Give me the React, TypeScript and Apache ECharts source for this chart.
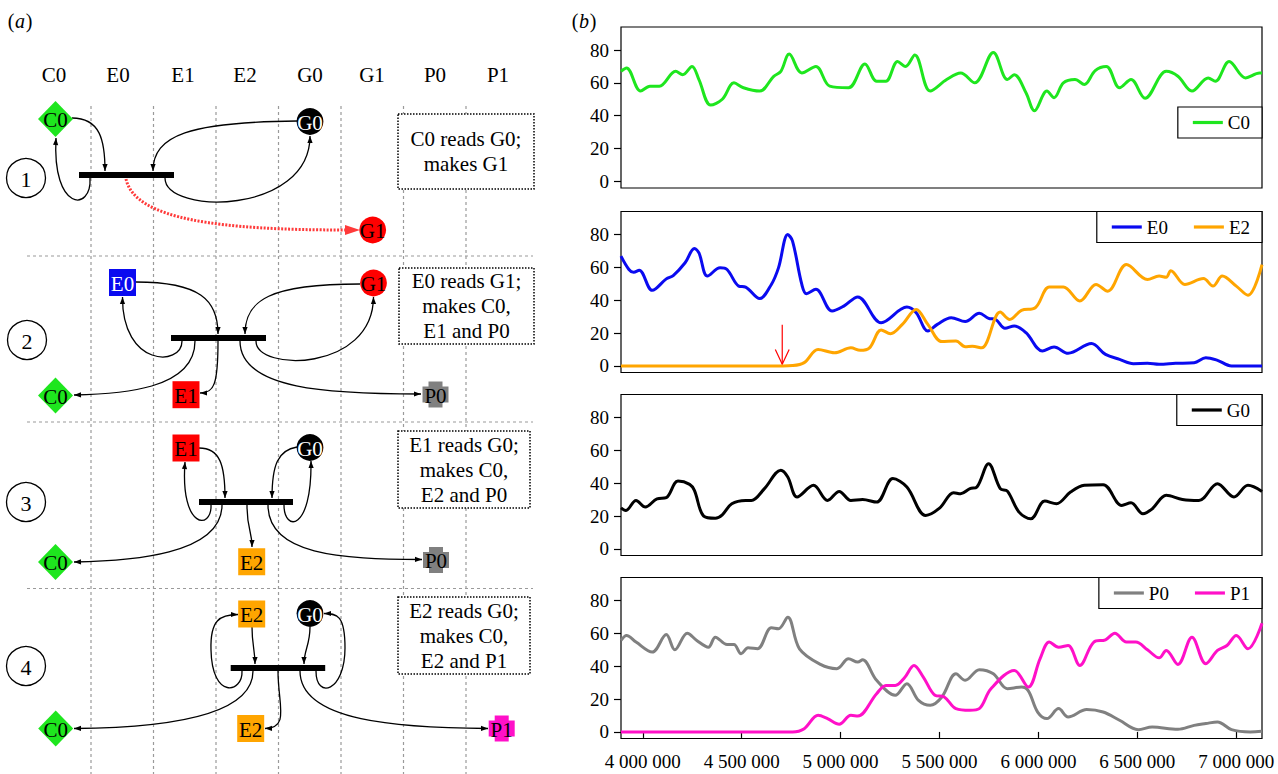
import { useEffect, useRef } from 'react';
import * as echarts from 'echarts';

const SERIF = 'Liberation Serif';

// ---------- data (x in thousands of steps, y values) ----------
const c0X = [3890, 3918, 3989, 4036, 4084, 4166, 4202, 4249, 4284, 4343, 4402, 4461, 4509, 4591, 4662, 4698, 4740, 4804, 4875, 4945, 5040, 5123, 5182, 5229, 5288, 5328, 5375, 5453, 5536, 5607, 5678, 5772, 5843, 5878, 5937, 5980, 6043, 6079, 6126, 6185, 6232, 6287, 6343, 6410, 6468, 6539, 6646, 6705, 6776, 6858, 6894, 6964, 7047, 7118, 7130];
const c0Y = [67, 69, 55, 58, 58, 67, 65, 70, 62, 46.5, 50, 60, 57, 55, 64, 67, 77.5, 66, 70, 58, 57, 71.5, 61, 61, 73, 70, 77, 55, 62, 66, 60, 78.5, 62, 65, 54, 43, 55, 51, 60, 62, 59, 67.5, 70, 57, 62, 50.6, 67, 64, 55, 63, 61, 73, 63, 66, 66];

const e0X = [3890, 3930, 3954, 3982, 4048, 4119, 4154, 4214, 4261, 4284, 4327, 4391, 4426, 4485, 4520, 4591, 4650, 4686, 4733, 4757, 4804, 4827, 4875, 4957, 5016, 5087, 5205, 5335, 5382, 5441, 5489, 5559, 5630, 5701, 5748, 5784, 5831, 5878, 5937, 6020, 6079, 6150, 6268, 6339, 6410, 6480, 6551, 6610, 6693, 6787, 6846, 6905, 6976, 7130];
const e0Y = [66.8, 58.7, 57, 58.3, 46, 53, 55, 62.8, 71.5, 68.8, 54.7, 59.7, 58.7, 48.6, 48, 41, 49.6, 59.7, 80, 76, 49.6, 44, 46.6, 33.4, 36.4, 42, 26.3, 35.8, 32.4, 21.3, 25.3, 29.4, 27, 32, 29, 28.3, 22.9, 24.3, 20.2, 9.1, 11.5, 7.7, 13.6, 7, 4, 1.4, 1.6, 1, 1.6, 2, 5, 3.4, 0, 0];

const e2X = [3890, 4709, 4757, 4816, 4886, 4969, 5052, 5099, 5146, 5205, 5252, 5312, 5382, 5441, 5512, 5583, 5630, 5666, 5713, 5807, 5855, 5914, 5984, 6055, 6126, 6209, 6291, 6350, 6445, 6551, 6610, 6646, 6669, 6740, 6834, 6882, 6929, 7000, 7059, 7130];
const e2Y = [0, 0, 0.2, 2, 10, 8, 11, 9.5, 11, 21.9, 19.6, 25.3, 34.4, 25.3, 14.8, 15.2, 11.7, 12, 11, 32.8, 28.3, 33.8, 35.4, 48, 48, 39.5, 49.6, 45.5, 61.7, 52.6, 54.7, 54, 58, 49.6, 53.2, 48.6, 54.7, 48.6, 43, 61.7];

const g0X = [3890, 3914, 3966, 4013, 4072, 4119, 4178, 4237, 4261, 4308, 4367, 4402, 4450, 4520, 4549, 4615, 4698, 4733, 4780, 4863, 4934, 4993, 5052, 5111, 5182, 5264, 5335, 5430, 5500, 5571, 5607, 5654, 5689, 5748, 5807, 5843, 5902, 5961, 6032, 6091, 6162, 6232, 6327, 6421, 6468, 6528, 6575, 6646, 6728, 6811, 6905, 6988, 7059, 7130];
const g0Y = [25, 23.4, 29.5, 25.5, 30.5, 31.2, 41.3, 39.3, 35.6, 20, 18.7, 20.8, 27.5, 29.5, 29.5, 36.7, 47.9, 43.8, 31.6, 38.7, 29.5, 35, 29.5, 30.1, 28.5, 42.8, 37.7, 20.4, 24.8, 34.2, 33.6, 36.7, 37.7, 51.9, 36.7, 35.2, 22.4, 18.3, 29.1, 27.5, 34.6, 38.7, 39.1, 26.5, 28.1, 21.4, 24.4, 32.6, 30.1, 29.5, 39.7, 31.6, 38.7, 35];

const p0X = [3890, 3918, 3966, 4048, 4119, 4162, 4225, 4273, 4332, 4367, 4426, 4461, 4497, 4532, 4580, 4650, 4686, 4733, 4792, 4898, 4981, 5040, 5087, 5111, 5182, 5276, 5335, 5394, 5453, 5512, 5583, 5630, 5701, 5772, 5843, 5914, 5949, 5996, 6043, 6102, 6150, 6244, 6327, 6410, 6504, 6575, 6705, 6787, 6846, 6905, 6976, 7071, 7130];
const p0Y = [55.7, 58.7, 54.7, 48.6, 59.3, 50, 60.1, 55.7, 51.6, 57.7, 53.2, 53.2, 47.6, 51.2, 50.6, 63.4, 62.8, 69.8, 50.6, 41.1, 38.5, 44.5, 42.5, 43.9, 31.4, 22.3, 29.4, 19.2, 16.2, 21.3, 35.4, 31.4, 37.9, 35.4, 26.3, 27.3, 25, 12.1, 8.1, 14.2, 9.1, 13.6, 12.1, 7.1, 1.4, 3, 1.6, 4, 5.1, 6.1, 1.4, 0, 0.4];

const p1X = [3890, 4757, 4816, 4886, 4934, 4993, 5052, 5087, 5182, 5229, 5276, 5323, 5371, 5418, 5477, 5524, 5583, 5654, 5701, 5760, 5878, 5949, 6008, 6055, 6102, 6150, 6209, 6280, 6339, 6386, 6445, 6492, 6551, 6610, 6646, 6705, 6776, 6846, 6905, 6953, 7000, 7059, 7130];
const p1Y = [0, 0, 2, 10.1, 8.1, 4.7, 10.1, 9.7, 23.3, 28.3, 28.3, 33, 40.5, 33.4, 22.3, 21.3, 14.2, 13.2, 14.2, 26.3, 37.4, 27.3, 44.5, 54.7, 51.6, 52.6, 40.5, 54.7, 56.1, 60.1, 54.7, 54.7, 50, 45.1, 49.6, 41.1, 57.7, 41.5, 49.6, 52.6, 58.7, 50.6, 66.2];

const xTicks = [4000000, 4500000, 5000000, 5500000, 6000000, 6500000, 7000000];
const yTicks = [0, 20, 40, 60, 80];
const X_MIN = 3890000;
const X_MAX = 7130000;
const Y_MIN = -4;
const Y_MAX = 94;

// red marker in panel E0/E2
const markerX = 4705000;
const markerTop = 25;
const markerTip = 1;
const markerWing = 10;
const markerSpan = 35000;

const columnLabels = ['C0', 'E0', 'E1', 'E2', 'G0', 'G1', 'P0', 'P1'];
const stepNumbers = ['1', '2', '3', '4'];
const stepTexts = [
  'C0 reads G0;\nmakes G1',
  'E0 reads G1;\nmakes C0,\nE1 and P0',
  'E1 reads G0;\nmakes C0,\nE2 and P0',
  'E2 reads G0;\nmakes C0,\nE2 and P1',
];

// ---------- colours ----------
const GREEN = '#1ee61e';
const BLUE = '#0a0af0';
const ORANGE = '#ffa500';
const RED = '#ff0000';
const GREY = '#808080';
const MAGENTA = '#ff10c8';

// ---------- diagram helpers ----------
type El = any;

function arrowHead(x2: number, y2: number, cx: number, cy: number, len: number, hw: number, color: string, z: number): El {
  const dx = x2 - cx;
  const dy = y2 - cy;
  const d = Math.hypot(dx, dy) || 1;
  const ux = dx / d;
  const uy = dy / d;
  const bx = x2 - ux * len;
  const by = y2 - uy * len;
  return {
    type: 'polygon',
    shape: { points: [[x2, y2], [bx - uy * hw, by + ux * hw], [bx + uy * hw, by - ux * hw]] },
    style: { fill: color },
    z,
  };
}

function curve(p: number[], head = true, color = '#000', width = 1.3, dash: number[] | null = null, hl = 7, hw = 2.6): El[] {
  const [x1, y1, c1x, c1y, c2x, c2y, x2, y2] = p;
  const out: El[] = [
    {
      type: 'bezierCurve',
      shape: { x1, y1, cpx1: c1x, cpy1: c1y, cpx2: c2x, cpy2: c2y, x2, y2 },
      style: { stroke: color, lineWidth: width, fill: null, lineDash: dash || undefined },
      z: 6,
    },
  ];
  if (head) out.push(arrowHead(x2, y2, c2x, c2y, hl, hw, color, 7));
  return out;
}

function label(x: number, y: number, text: string, size = 21, fill = '#000', z = 12, italic = false): El {
  return {
    type: 'text',
    x,
    y,
    style: {
      text,
      fill,
      fontSize: size,
      fontFamily: SERIF,
      fontStyle: italic ? 'italic' : 'normal',
      textAlign: 'center',
      textVerticalAlign: 'middle',
    },
    z,
  };
}

function node(name: string, cx: number, cy: number): El[] {
  const els: El[] = [];
  const z = 10;
  let textColor = '#000';
  if (name === 'C0') {
    els.push({ type: 'polygon', shape: { points: [[cx, cy - 18], [cx + 17.5, cy], [cx, cy + 18], [cx - 17.5, cy]] }, style: { fill: GREEN }, z });
  } else if (name[0] === 'E') {
    const fill = name === 'E0' ? BLUE : name === 'E1' ? RED : ORANGE;
    if (name === 'E0') textColor = '#fff';
    els.push({ type: 'rect', shape: { x: cx - 13.5, y: cy - 13.5, width: 27, height: 27 }, style: { fill }, z });
  } else if (name[0] === 'G') {
    const fill = name === 'G0' ? '#000' : RED;
    if (name === 'G0') textColor = '#fff';
    els.push({ type: 'circle', shape: { cx, cy, r: 13.4 }, style: { fill }, z });
  } else {
    const fill = name === 'P0' ? GREY : MAGENTA;
    els.push({ type: 'rect', shape: { x: cx - 13, y: cy - 8, width: 26, height: 16 }, style: { fill }, z });
    els.push({ type: 'rect', shape: { x: cx - 7, y: cy - 13, width: 14, height: 26 }, style: { fill }, z });
  }
  els.push(label(cx, cy + 1, name, 21, textColor, 11));
  return els;
}

function bar(x: number, y: number, w: number): El {
  return { type: 'rect', shape: { x, y, width: w, height: 6 }, style: { fill: '#000' }, z: 9 };
}

function stepCircle(cx: number, cy: number, text: string): El[] {
  return [
    { type: 'circle', shape: { cx, cy, r: 19.5 }, style: { fill: '#fff', stroke: '#000', lineWidth: 1.3 }, z: 8 },
    label(cx, cy + 1, text, 22),
  ];
}

function textBox(x: number, y: number, w: number, h: number, text: string): El[] {
  return [
    { type: 'rect', shape: { x, y, width: w, height: h }, style: { fill: '#fff', stroke: '#000', lineWidth: 1.5, lineDash: [1.5, 1.5] }, z: 4 },
    {
      type: 'text',
      x: x + w / 2,
      y: y + h / 2,
      style: { text, fill: '#000', fontSize: 21, fontFamily: SERIF, textAlign: 'center', textVerticalAlign: 'middle', lineHeight: 25 },
      z: 5,
    },
  ];
}

function panelTag(x: number, letter: string): El[] {
  return [
    label(x + 3, 21, '(', 20),
    label(x + 12, 21, letter, 20, '#000', 12, true),
    label(x + 21, 21, ')', 20),
  ];
}

function buildDiagram(): El[] {
  const els: El[] = [];
  els.push(...panelTag(8, 'a'));
  // column headers
  const headerX = [54, 118, 183, 245, 310, 372, 435, 498];
  columnLabels.forEach((c, i) => els.push(label(headerX[i], 75, c, 21)));
  // dashed grid
  const vx = [91, 153.5, 216, 278.5, 341, 403.5, 466];
  vx.forEach((x) =>
    els.push({ type: 'line', shape: { x1: x, y1: 106, x2: x, y2: 774 }, style: { stroke: '#9a9a9a', lineWidth: 1.2, lineDash: [3, 3] }, z: 1 })
  );
  [256, 422, 588.5].forEach((y) =>
    els.push({ type: 'line', shape: { x1: 27, y1: y, x2: 533, y2: y }, style: { stroke: '#9a9a9a', lineWidth: 1.2, lineDash: [3, 3] }, z: 1 })
  );

  // ---- step 1 ----
  els.push(...stepCircle(26, 178, stepNumbers[0]));
  els.push(bar(79, 172, 95));
  els.push(...curve([72, 118, 100, 118, 105, 140, 105, 171]));
  els.push(...curve([297, 121, 190, 122, 153, 135, 153, 171]));
  els.push(...curve([90, 178, 92, 212, 52, 212, 56, 138]));
  els.push(...curve([165, 178, 165, 215, 310, 215, 310, 136]));
  els.push(...curve([126, 179, 135, 220, 220, 230, 347, 230], false, '#ff3a3a', 3, [2, 1.5]));
  els.push(arrowHead(360, 230, 300, 230, 15, 5, '#ff3a3a', 7));
  els.push(...node('C0', 55.5, 119));
  els.push(...node('G0', 310, 121.5));
  els.push(...node('G1', 372.7, 230));
  els.push(...textBox(398, 114, 136, 75, stepTexts[0]));

  // ---- step 2 ----
  els.push(...stepCircle(27, 340, stepNumbers[1]));
  els.push(bar(171, 335, 95));
  els.push(...curve([136, 282, 200, 282, 218, 300, 218, 334]));
  els.push(...curve([360, 284, 270, 284, 245, 300, 245, 334]));
  els.push(...curve([182, 341, 182, 367, 122, 367, 122.5, 297]));
  els.push(...curve([256, 341, 256, 372, 373, 372, 373.5, 297]));
  els.push(...curve([195, 341, 195, 390, 120, 394, 74, 395]));
  els.push(...curve([218, 341, 218, 385, 214, 393, 200, 393]));
  els.push(...curve([240, 341, 240, 390, 330, 394, 421, 394]));
  els.push(...node('E0', 122.5, 282.5));
  els.push(...node('G1', 373.5, 283));
  els.push(...node('C0', 55.5, 395.5));
  els.push(...node('E1', 186, 394.7));
  els.push(...node('P0', 435.5, 394.5));
  els.push(...textBox(399, 268, 135, 76, stepTexts[1]));

  // ---- step 3 ----
  els.push(...stepCircle(26, 502, stepNumbers[2]));
  els.push(bar(199, 499, 94));
  els.push(...curve([199, 448, 220, 448, 225, 465, 225, 498]));
  els.push(...curve([297, 447, 278, 450, 272, 465, 272, 498]));
  els.push(...curve([211, 505, 212, 530, 180, 530, 185, 462]));
  els.push(...curve([284, 505, 284, 532, 312, 532, 311, 461]));
  els.push(...curve([222, 505, 222, 555, 130, 561, 74, 562]));
  els.push(...curve([247, 505, 247, 530, 252, 530, 252, 547]));
  els.push(...curve([268, 505, 268, 555, 340, 559, 422, 559.5]));
  els.push(...node('E1', 186, 448));
  els.push(...node('G0', 310, 447.5));
  els.push(...node('C0', 55.5, 562));
  els.push(...node('E2', 251.7, 561.7));
  els.push(...node('P0', 436, 560));
  els.push(...textBox(398, 431, 132, 77, stepTexts[2]));

  // ---- step 4 ----
  els.push(...stepCircle(26, 666, stepNumbers[3]));
  els.push(bar(230.7, 665, 94.5));
  els.push(...curve([252, 627, 252, 645, 255, 650, 255, 664]));
  els.push(...curve([310, 627, 310, 645, 304, 650, 304, 664]));
  els.push(...curve([242, 671, 243, 693, 212, 700, 211, 650], false));
  els.push(...curve([211, 650, 210, 620, 220, 614.5, 238, 614.5]));
  els.push(...curve([316, 671, 316, 700, 345, 692, 345, 648], false));
  els.push(...curve([345, 648, 345, 615, 337, 613.5, 324, 613.5]));
  els.push(...curve([253, 671, 253, 722, 140, 728, 74, 728.5]));
  els.push(...curve([278, 671, 278, 705, 290, 728, 265, 728.5]));
  els.push(...curve([300, 671, 300, 722, 400, 728, 488, 728.5]));
  els.push(...node('E2', 251.7, 614));
  els.push(...node('G0', 310, 613.5));
  els.push(...node('C0', 55.7, 728.5));
  els.push(...node('E2', 250.7, 728.5));
  els.push(...node('P1', 501.7, 728.5));
  els.push(...textBox(398, 597, 132, 77, stepTexts[3]));

  els.push(...panelTag(572, 'b'));
  return els;
}

// ---------- chart ----------
const pairs = (xs: number[], ys: number[]) => xs.map((x, i) => [x * 1000, ys[i]]);
const fmt = (v: number) => String(v).replace(/\B(?=(\d{3})+(?!\d))/g, ' ');

function lineSeries(name: string, xs: number[], ys: number[], color: string, gi: number) {
  return {
    name,
    type: 'line',
    xAxisIndex: gi,
    yAxisIndex: gi,
    data: pairs(xs, ys),
    symbol: 'none',
    showSymbol: false,
    smooth: 0.35,
    lineStyle: { color, width: 3 },
    itemStyle: { color },
    z: 3,
  };
}

function buildOption() {
  const tops = [27, 211.5, 394.5, 577.5];
  const grid = tops.map((t) => ({
    left: 621,
    width: 641,
    top: t,
    height: 161,
    show: true,
    borderColor: '#000',
    borderWidth: 1.2,
    backgroundColor: 'rgba(0,0,0,0)',
  }));
  const xAxis = tops.map((_, i) => ({
    type: 'value',
    gridIndex: i,
    min: X_MIN,
    max: X_MAX,
    axisLine: { show: false },
    splitLine: { show: false },
    axisTick: { show: i === 3, customValues: xTicks, length: 6, lineStyle: { color: '#000', width: 1.2 } },
    axisLabel: {
      show: i === 3,
      customValues: xTicks,
      formatter: fmt,
      fontSize: 19,
      fontFamily: SERIF,
      color: '#000',
      margin: 13,
    },
  }));
  const yAxis = tops.map((_, i) => ({
    type: 'value',
    gridIndex: i,
    min: Y_MIN,
    max: Y_MAX,
    axisLine: { show: false },
    splitLine: { show: false },
    axisTick: { show: true, customValues: yTicks, length: 7, lineStyle: { color: '#000', width: 1.2 } },
    axisLabel: { customValues: yTicks, fontSize: 19, fontFamily: SERIF, color: '#000', margin: 12 },
  }));
  const legendBase = {
    orient: 'horizontal',
    right: 16,
    backgroundColor: '#fff',
    borderColor: '#000',
    borderWidth: 1.2,
    padding: [6, 12, 6, 15],
    itemGap: 26,
    itemWidth: 30,
    itemHeight: 3.2,
    icon: 'rect',
    textStyle: { fontSize: 19, fontFamily: SERIF, color: '#000' },
  };
  const legend = [
    { ...legendBase, data: ['C0'], top: 107 },
    { ...legendBase, data: ['E0', 'E2'], top: 211.5 },
    { ...legendBase, data: ['G0'], top: 394.5 },
    { ...legendBase, data: ['P0', 'P1'], top: 577.5 },
  ];
  const series: any[] = [
    lineSeries('C0', c0X, c0Y, GREEN, 0),
    lineSeries('E0', e0X, e0Y, BLUE, 1),
    lineSeries('E2', e2X, e2Y, ORANGE, 1),
    lineSeries('G0', g0X, g0Y, '#000', 2),
    lineSeries('P0', p0X, p0Y, GREY, 3),
    lineSeries('P1', p1X, p1Y, MAGENTA, 3),
    {
      type: 'line',
      xAxisIndex: 1,
      yAxisIndex: 1,
      data: [[markerX, markerTop], [markerX, markerTip]],
      symbol: 'none',
      lineStyle: { color: RED, width: 1.2 },
      z: 5,
      silent: true,
    },
    {
      type: 'line',
      xAxisIndex: 1,
      yAxisIndex: 1,
      data: [[markerX - markerSpan, markerWing], [markerX, markerTip], [markerX + markerSpan, markerWing]],
      symbol: 'none',
      lineStyle: { color: RED, width: 1.2 },
      z: 5,
      silent: true,
    },
  ];
  return {
    animation: false,
    backgroundColor: '#fff',
    textStyle: { fontFamily: SERIF },
    grid,
    xAxis,
    yAxis,
    legend,
    series,
    graphic: { elements: buildDiagram() },
  };
}

export default function App() {
  const ref = useRef<HTMLDivElement>(null);
  useEffect(() => {
    if (!ref.current) return;
    const chart = echarts.init(ref.current, undefined, { renderer: 'svg' });
    chart.setOption(buildOption() as any);
    return () => chart.dispose();
  }, []);
  return <div ref={ref} style={{ position: 'absolute', left: 0, top: 0, width: 1278, height: 774 }} />;
}
